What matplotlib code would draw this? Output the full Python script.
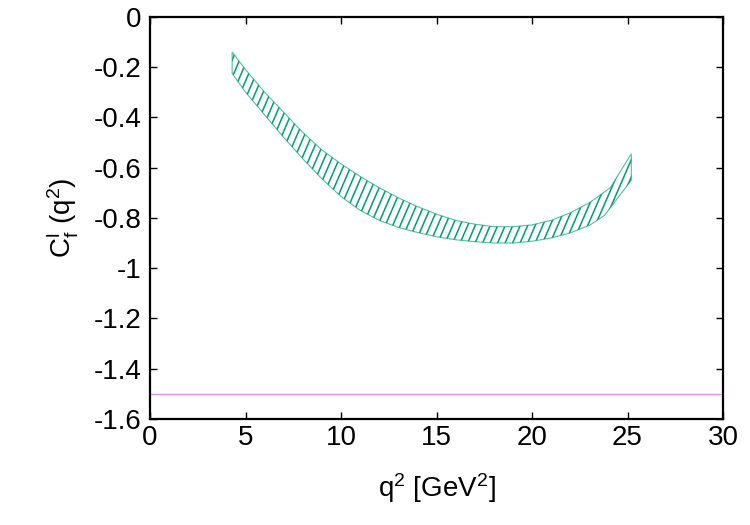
import numpy as np
import matplotlib
matplotlib.use("Agg")
import matplotlib.pyplot as plt
from matplotlib.collections import LineCollection
from matplotlib.transforms import IdentityTransform

# band: upper / lower edge of C_f^l(q^2)
q_up = [4.3, 5, 6, 7, 8, 9, 10, 11, 12, 13, 14, 15, 16, 17, 18, 19, 20, 21, 22, 23, 24.1, 25.2]
c_up = [-0.14, -0.21, -0.30, -0.38, -0.46, -0.53, -0.585, -0.635, -0.68, -0.72, -0.755,
        -0.785, -0.81, -0.825, -0.835, -0.835, -0.828, -0.81, -0.78, -0.74, -0.68, -0.545]
q_lo = [4.3, 5, 6, 7, 8, 9, 10, 11, 12, 13, 14, 15, 16, 17, 18, 19, 20, 21, 22, 23, 23.8, 25.2]
c_lo = [-0.225, -0.30, -0.39, -0.48, -0.565, -0.645, -0.715, -0.77, -0.81, -0.838, -0.858,
        -0.875, -0.887, -0.895, -0.90, -0.90, -0.893, -0.88, -0.86, -0.83, -0.79, -0.65]

# constant reference line
q_ref = [0, 30]
c_ref = [-1.5, -1.5]

green = "#009e73"

plt.rcParams['font.family'] = ['Liberation Sans', 'DejaVu Sans']
plt.rcParams['mathtext.fontset'] = 'custom'
plt.rcParams['mathtext.rm'] = 'Liberation Sans'
plt.rcParams['mathtext.it'] = 'Liberation Sans'

fig = plt.figure(figsize=(7.5, 5.25), dpi=100)
ax = fig.add_axes([0.2, 0.202, 0.764, 0.766])

# closed band polygon: upper edge forward, lower edge back
band = ax.fill(q_up + q_lo[::-1], c_up + c_lo[::-1],
               facecolor="none", edgecolor="#55c09c", linewidth=0.8)[0]

# gnuplot-like steep hatch, clipped to the band
xs = np.arange(-300, 800, 7.5)
segs = [[(x, 0), (x + 525 / 2.3, 525)] for x in xs]
lc = LineCollection(segs, colors=green, linewidths=1.1, transform=IdentityTransform())
ax.add_collection(lc, autolim=False)
lc.set_clip_path(band)

ax.plot(q_ref, c_ref, color="#e08af5", linewidth=1.0)

ax.set_xlim(0, 30)
ax.set_ylim(-1.6, 0)
ax.set_xticks(np.arange(0, 31, 5))
ax.set_yticks(np.arange(-1.6, 0.01, 0.2))
ax.set_yticklabels(["-1.6", "-1.4", "-1.2", "-1", "-0.8", "-0.6", "-0.4", "-0.2", "0"])

ax.tick_params(direction="in", length=5, width=1, labelsize=20, top=True, right=True, pad=6)
ax.tick_params(axis="x", pad=4)
for s in ax.spines.values():
    s.set_linewidth(1.6)

ax.set_xlabel(r"$\mathregular{q^2}$ [GeV$\mathregular{^2}$]", fontsize=20, labelpad=15)
ax.set_ylabel(r"$\mathregular{C_f^l\ (q^2)}$", fontsize=20, labelpad=10)

fig.savefig("out.png", dpi=100)
